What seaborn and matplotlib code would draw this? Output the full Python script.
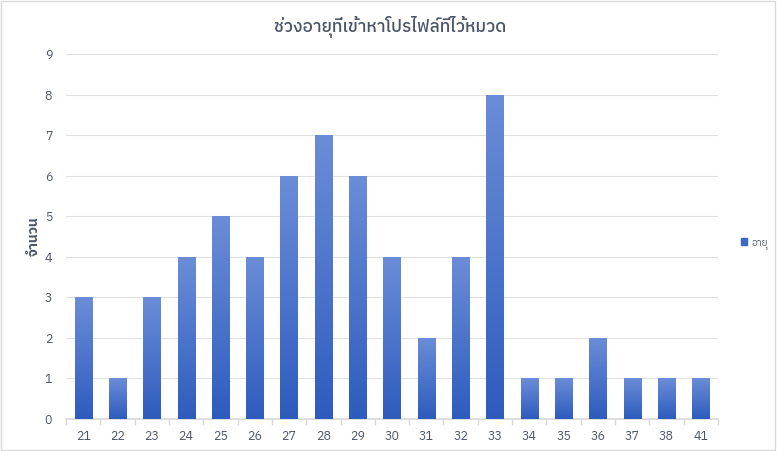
import numpy as np
import pandas as pd
import seaborn as sns
import matplotlib.pyplot as plt
from matplotlib.patches import Rectangle
from matplotlib.colors import LinearSegmentedColormap
from matplotlib import font_manager

ages = ["21", "22", "23", "24", "25", "26", "27", "28", "29", "30",
        "31", "32", "33", "34", "35", "36", "37", "38", "41"]
counts = [3, 1, 3, 4, 5, 4, 6, 7, 6, 4, 2, 4, 8, 1, 1, 2, 1, 1, 1]
title = "ช่วงอายุที่เข้าหาโปรไฟล์ที่ไว้หมวด"
ylabel = "จำนวน"
series_name = "อายุ"

sns.set_theme(style="white")
thai = [f.name for f in font_manager.fontManager.ttflist
        if any(k in f.name for k in ["Thai", "Loma", "Garuda", "Tlwg", "Kinnari", "Sawasdee", "Umpush", "Waree", "Norasi", "Leelawadee", "Tahoma"])]
plt.rcParams["font.family"] = sorted(set(thai)) + ["DejaVu Sans"]

text_col = "#4a5568"
df = pd.DataFrame({"age": ages, "count": counts})

fig = plt.figure(figsize=(7.77, 4.51), dpi=100)
ax = fig.add_axes([0.085, 0.071, 0.839, 0.809])
sns.barplot(data=df, x="age", y="count", color="#4472c4", width=0.5, ax=ax, zorder=3)

# vertical gradient fill on each bar
grad = LinearSegmentedColormap.from_list("g", ["#2e5cbe", "#6b8dd8"])
for p in ax.patches:
    x0, y0 = p.get_x(), p.get_y()
    w, h = p.get_width(), p.get_height()
    im = ax.imshow(np.linspace(0, 1, 100).reshape(-1, 1), cmap=grad, origin="lower",
                   extent=[x0, x0 + w, y0, y0 + h], aspect="auto", zorder=4)
    im.set_clip_path(p)
    p.set_alpha(0)

ax.set_xlim(-0.5, len(ages) - 0.5)
ax.set_ylim(0, 9)
ax.set_yticks(range(0, 10))
ax.yaxis.grid(True, color="#e1e1e1", linewidth=0.8, zorder=0)
ax.set_axisbelow(True)
for s in ["top", "right", "left"]:
    ax.spines[s].set_visible(False)
ax.spines["bottom"].set_color("#d9d9d9")
ax.set_xticks(np.arange(-0.5, len(ages)), minor=True)
ax.tick_params(axis="x", which="minor", length=4, color="#d9d9d9", bottom=True)
ax.tick_params(axis="x", which="major", length=0, pad=8, labelsize=9, labelcolor=text_col)
ax.tick_params(axis="y", length=0, pad=10, labelsize=9, labelcolor=text_col)
ax.set_xlabel("")
ax.set_ylabel(ylabel, fontsize=10, color=text_col, fontweight="bold", labelpad=3)
fig.suptitle(title, x=0.502, y=0.965, fontsize=12.5, color=text_col, fontweight="medium")

handle = Rectangle((0, 0), 1, 1, color="#3d68c8")
fig.legend([handle], [series_name], loc="center left", bbox_to_anchor=(0.942, 0.46),
           frameon=False, fontsize=7, handlelength=0.7, handleheight=0.7,
           handletextpad=0.4, labelcolor=text_col)

fig.patches.append(Rectangle((0.001, 0.002), 0.997, 0.995, transform=fig.transFigure,
                             fill=False, edgecolor="#d9d9d9", linewidth=1))

fig.savefig("out.png", dpi=100)
